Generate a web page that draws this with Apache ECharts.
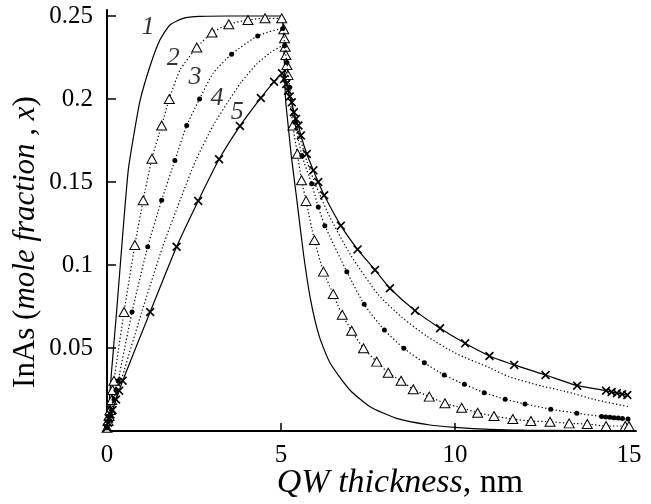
<!DOCTYPE html>
<html>
<head>
<meta charset="utf-8">
<script src="https://cdn.jsdelivr.net/npm/echarts@6/dist/echarts.min.js"></script>
<style>
  html, body { margin: 0; padding: 0; background: #fff; }
  #main { width: 651px; height: 504px; }
</style>
</head>
<body>
<div id="main"></div>
<script>
// 刻度
var xTicks = [0, 5, 10, 15];
var yTicks = [0.05, 0.1, 0.15, 0.2, 0.25];

// 曲线 1: 实线, 无标记
var curve1 = [
  [0, 0.002], [0.04, 0.011], [0.135, 0.037], [0.28, 0.073], [0.45, 0.118], [0.61, 0.157],
  [0.76, 0.177], [0.95, 0.199], [1.24, 0.22], [1.52, 0.2355], [1.81, 0.2446], [2.19, 0.2486],
  [2.67, 0.2498], [3.5, 0.25], [4.5, 0.25], [4.98, 0.25], [5.05, 0.246], [5.1, 0.22],
  [5.13, 0.2], [5.2, 0.185], [5.3, 0.165], [5.45, 0.14], [5.65, 0.106], [5.85, 0.079],
  [6.1, 0.057], [6.41, 0.041], [6.98, 0.0247], [7.56, 0.0146], [8.32, 0.0076], [9.28, 0.0036],
  [10, 0.0022], [11, 0.001], [12, 0.0005], [15, 0.0001]
];

// 曲线 2: 点线 + 空心三角
var curve2 = [
  [0, 0.002], [0.03, 0.006], [0.06, 0.009], [0.09, 0.0126], [0.135, 0.0187], [0.16, 0.0247],
  [0.2, 0.0303], [0.49, 0.0717], [0.8, 0.112], [1.04, 0.139], [1.29, 0.164], [1.57, 0.184],
  [1.79, 0.2], [2.1, 0.2175], [2.58, 0.231], [3.02, 0.24], [3.5, 0.245], [4.05, 0.2476],
  [4.54, 0.2486], [5.02, 0.2486], [5.08, 0.242], [5.1, 0.2366], [5.12, 0.2315], [5.14, 0.2265],
  [5.17, 0.2205], [5.2, 0.2145], [5.34, 0.184], [5.47, 0.167], [5.59, 0.151], [5.72, 0.1386],
  [5.96, 0.115], [6.22, 0.096], [6.5, 0.0825], [6.76, 0.07], [7.03, 0.0604], [7.37, 0.0498],
  [7.75, 0.0418], [8.08, 0.0351], [8.45, 0.0303], [8.8, 0.0251], [9.26, 0.0207], [9.71, 0.0167],
  [10.19, 0.014], [10.65, 0.011], [11.12, 0.009], [11.66, 0.0072], [12.18, 0.006], [12.73, 0.0056],
  [13.28, 0.0046], [13.8, 0.0042], [14.34, 0.003], [14.89, 0.003], [15.0, 0.003]
];
var curve2Hidden = [2.1];

// 曲线 3: 点线 + 实心点
var curve3 = [
  [0, 0.002], [0.04, 0.006], [0.08, 0.009], [0.13, 0.0126], [0.2, 0.019], [0.26, 0.0245],
  [0.32, 0.0303], [0.72, 0.0717], [1.17, 0.111], [1.57, 0.139], [1.95, 0.163], [2.29, 0.184],
  [2.66, 0.2], [3.05, 0.2155], [3.58, 0.227], [4.33, 0.238], [5.05, 0.2425], [5.1, 0.232],
  [5.17, 0.222], [5.25, 0.207], [5.4, 0.186], [5.6, 0.166], [5.88, 0.149], [6.07, 0.135],
  [6.26, 0.1237], [6.89, 0.096], [7.39, 0.0763], [7.97, 0.0608], [8.53, 0.0498], [9.12, 0.0411],
  [9.69, 0.0337], [10.27, 0.0281], [10.84, 0.0231], [11.44, 0.0191], [12.01, 0.0163],
  [12.75, 0.0131], [13.5, 0.0107], [14.21, 0.0087], [14.33, 0.0085], [14.45, 0.0083],
  [14.57, 0.008], [14.69, 0.0078], [14.81, 0.0075], [14.97, 0.0072]
];
var curve3Hidden = [3.05];

// 曲线 4: 点线, 无标记
var curve4 = [
  [0, 0.002], [0.1, 0.009], [0.25, 0.019], [0.5, 0.037], [1.0, 0.0717], [1.6, 0.111],
  [2.1, 0.139], [2.55, 0.163], [3.05, 0.184], [3.5, 0.199], [3.85, 0.21], [4.3, 0.221],
  [4.7, 0.228], [5.05, 0.232], [5.08, 0.226], [5.12, 0.218], [5.2, 0.207], [5.3, 0.197],
  [5.5, 0.18], [5.75, 0.162], [6.0, 0.148], [6.4, 0.129], [7.0, 0.106], [7.8, 0.082],
  [8.5, 0.068], [9.2, 0.057], [10.0, 0.047], [11.0, 0.038], [11.55, 0.0327], [12.5, 0.027],
  [13.2, 0.0237], [14.0, 0.019], [15.0, 0.0146]
];

// 曲线 5: 实线 + 叉号
var curve5 = [
  [0, 0.002], [0.03, 0.005], [0.06, 0.0075], [0.1, 0.01], [0.16, 0.0126], [0.26, 0.019],
  [0.35, 0.0243], [0.45, 0.0303], [1.24, 0.0717], [2.0, 0.111], [2.62, 0.1386], [3.22, 0.1637],
  [3.82, 0.1837], [4.42, 0.2006], [4.8, 0.2104], [5.03, 0.2155], [5.09, 0.212], [5.15, 0.209],
  [5.2, 0.205], [5.25, 0.2015], [5.31, 0.198], [5.37, 0.192], [5.43, 0.188], [5.5, 0.184],
  [5.57, 0.178], [5.74, 0.1669], [5.93, 0.157], [6.07, 0.15], [6.24, 0.142], [6.72, 0.1237],
  [7.2, 0.1094], [7.7, 0.097], [8.13, 0.086], [8.85, 0.0725], [9.57, 0.0619], [10.29, 0.0528],
  [10.99, 0.0452], [11.7, 0.0398], [12.6, 0.0337], [13.51, 0.0273], [14.34, 0.0243],
  [14.5, 0.0235], [14.65, 0.0228], [14.8, 0.0222], [14.95, 0.0217]
];

// 曲线编号
var curveNames = ['1', '2', '3', '4', '5'];
var labelPos = [[1.18, 0.243], [1.9, 0.2247], [2.53, 0.2133], [3.16, 0.2006], [3.74, 0.192]];

var FONT = 'Liberation Serif';
var crossPath = 'path://M0,1.3L1.3,0L5,3.7L8.7,0L10,1.3L6.3,5L10,8.7L8.7,10L5,6.3L1.3,10L0,8.7L3.7,5Z';
var dotted = [1.3, 2.3];

function withHidden(points, hiddenX) {
  return points.map(function (p) {
    if (hiddenX.indexOf(p[0]) >= 0) {
      return { value: p, symbol: 'none' };
    }
    return p;
  });
}

function lineSeries(data, lineType, extra) {
  var s = {
    type: 'line',
    data: data,
    smooth: 0.2,
    showSymbol: false,
    symbol: 'none',
    lineStyle: { color: '#000', width: 1.2, type: lineType },
    itemStyle: { color: '#000' },
    z: 3
  };
  for (var k in extra) s[k] = extra[k];
  return s;
}

var chart = echarts.init(document.getElementById('main'));

var option = {
  animation: false,
  backgroundColor: '#fff',
  grid: { left: 107, right: 15, top: 10, bottom: 73 },
  // 坐标轴标题 (斜体部分用 rich)
  graphic: [
    {
      type: 'text',
      x: 400,
      y: 483,
      style: {
        text: '{i|QW thickness}, nm',
        font: '34px "Liberation Serif"',
        fill: '#000',
        align: 'center',
        verticalAlign: 'middle',
        rich: { i: { fontFamily: FONT, fontSize: 34, fontStyle: 'italic', fill: '#000' } }
      }
    },
    {
      type: 'text',
      x: 26,
      y: 242,
      rotation: Math.PI / 2,
      style: {
        text: 'InAs ({i|mole fraction , x})',
        font: '31px "Liberation Serif"',
        fill: '#000',
        align: 'center',
        verticalAlign: 'middle',
        rich: { i: { fontFamily: FONT, fontSize: 31, fontStyle: 'italic', fill: '#000' } }
      }
    }
  ],
  xAxis: {
    type: 'value',
    min: 0,
    max: 15.2,
    axisLine: { lineStyle: { color: '#000', width: 2 } },
    axisTick: { inside: true, length: 8, customValues: [5, 10, 15], lineStyle: { color: '#000', width: 1.5 } },
    axisLabel: { customValues: xTicks, margin: 12, fontFamily: FONT, fontSize: 25, color: '#000' },
    splitLine: { show: false }
  },
  yAxis: {
    type: 'value',
    min: 0,
    max: 0.2536,
    axisLine: { lineStyle: { color: '#000', width: 2 } },
    axisTick: { inside: true, length: 9, customValues: yTicks, lineStyle: { color: '#000', width: 1.5 } },
    axisLabel: { customValues: yTicks, margin: 14, fontFamily: FONT, fontSize: 25, color: '#000' },
    splitLine: { show: false }
  },
  series: [
    lineSeries(curve1, 'solid', {}),
    lineSeries(curve4, dotted, {}),
    lineSeries(withHidden(curve2, curve2Hidden), dotted, {
      showSymbol: true,
      symbol: 'triangle',
      symbolSize: [10, 9],
      itemStyle: { color: '#fff', borderColor: '#000', borderWidth: 1 },
      z: 4
    }),
    lineSeries(withHidden(curve3, curve3Hidden), dotted, {
      showSymbol: true,
      symbol: 'circle',
      symbolSize: 5,
      itemStyle: { color: '#000' },
      z: 5
    }),
    lineSeries(curve5, 'solid', {
      showSymbol: true,
      symbol: crossPath,
      symbolSize: 9,
      itemStyle: { color: '#000' },
      z: 6
    }),
    {
      type: 'scatter',
      symbolSize: 0,
      itemStyle: { color: '#000' },
      data: labelPos.map(function (p, i) { return { value: p, name: curveNames[i] }; }),
      label: {
        show: true,
        position: 'inside',
        formatter: '{b}',
        fontFamily: FONT,
        fontSize: 26,
        fontStyle: 'italic',
        color: '#000',
        textBorderWidth: 0
      },
      z: 7
    }
  ]
};

chart.setOption(option);
</script>
</body>
</html>
